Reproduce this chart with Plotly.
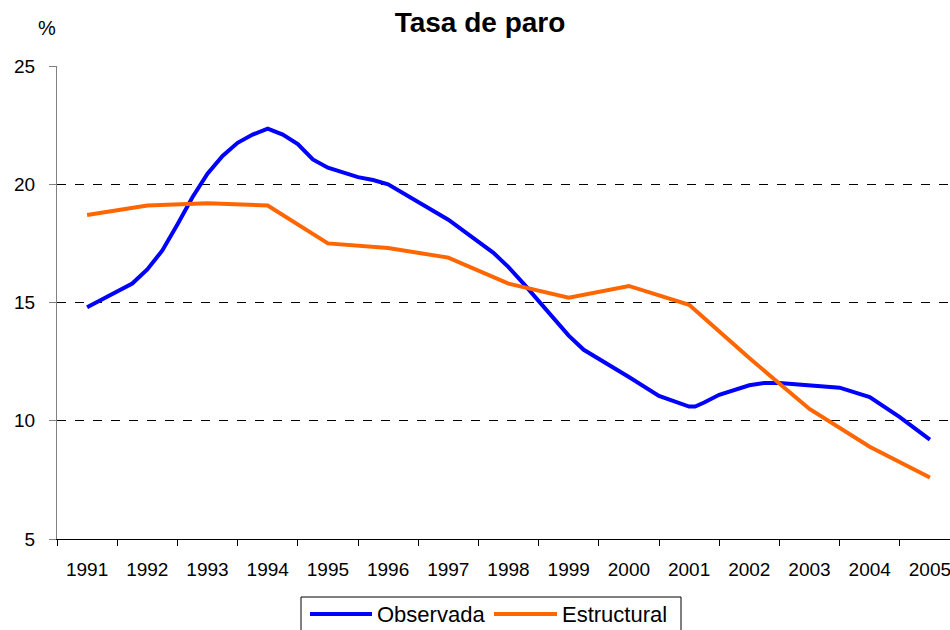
import plotly.graph_objects as go

# Annual categories
years = list(range(1991, 2006))
year_labels = [str(y) for y in years]

# Estructural (annual)
estructural = [18.7, 19.1, 19.2, 19.1, 17.5, 17.3, 16.9, 15.8, 15.2, 15.7, 14.9, 12.65, 10.5, 8.9, 7.6]

# Observada (sub-annual readings, x in decimal years, integer = middle of year slot)
obs_x = [1991.0, 1991.75, 1992.0, 1992.25, 1992.5, 1992.75, 1993.0, 1993.25, 1993.5, 1993.75,
         1994.0, 1994.25, 1994.5, 1994.75, 1995.0, 1995.5, 1995.75, 1996.0, 1997.0, 1997.75,
         1998.0, 1998.25, 1999.0, 1999.25, 2000.0, 2000.5, 2001.0, 2001.1, 2001.25, 2001.5,
         2002.0, 2002.25, 2002.5, 2003.5, 2004.0, 2004.5, 2005.0]
obs_y = [14.8, 15.8, 16.4, 17.2, 18.3, 19.45, 20.45, 21.2, 21.75, 22.1,
         22.35, 22.1, 21.7, 21.05, 20.7, 20.3, 20.18, 20.0, 18.5, 17.1,
         16.5, 15.8, 13.6, 13.0, 11.85, 11.05, 10.6, 10.6, 10.77, 11.1,
         11.5, 11.6, 11.6, 11.4, 11.0, 10.15, 9.2]

y_ticks = [5, 10, 15, 20, 25]

series_names = ["Observada", "Estructural"]
series_colors = ["#0000FF", "#FF6600"]

FONT = "Liberation Sans, Arial, sans-serif"

W, H = 950, 630
L, R, T, B = 57, W, 66, 539
YEAR_PX = 60.2
x_end = 1990.5 + (R - L) / YEAR_PX

def px(x):
    return (x - L) / (R - L)
def py(y):
    return (B - y) / (B - T)

fig = go.Figure()
fig.add_trace(go.Scatter(x=obs_x, y=obs_y, mode="lines", name=series_names[0],
                         line=dict(color=series_colors[0], width=4), showlegend=False))
fig.add_trace(go.Scatter(x=years, y=estructural, mode="lines", name=series_names[1],
                         line=dict(color=series_colors[1], width=4), showlegend=False))

# legend box drawn by hand (longer line samples, like the original)
shapes = [
    dict(type="rect", xref="paper", yref="paper", x0=px(301), x1=px(681), y0=py(597), y1=py(660),
         line=dict(color="black", width=1), fillcolor="white", layer="above"),
    dict(type="line", xref="paper", yref="paper", x0=px(310), x1=px(372), y0=py(614), y1=py(614),
         line=dict(color=series_colors[0], width=4), layer="above"),
    dict(type="line", xref="paper", yref="paper", x0=px(494), x1=px(557), y0=py(614), y1=py(614),
         line=dict(color=series_colors[1], width=4), layer="above"),
]
annotations = [
    dict(text="%", xref="paper", yref="paper", x=px(47), y=py(28),
         showarrow=False, xanchor="center", yanchor="middle",
         font=dict(family=FONT, size=20, color="black")),
    dict(text=series_names[0], xref="paper", yref="paper", x=px(375), y=py(614),
         showarrow=False, xanchor="left", yanchor="middle",
         font=dict(family=FONT, size=22, color="black")),
    dict(text=series_names[1], xref="paper", yref="paper", x=px(560), y=py(614),
         showarrow=False, xanchor="left", yanchor="middle",
         font=dict(family=FONT, size=22, color="black")),
]

fig.update_layout(
    width=W, height=H,
    margin=dict(l=L, r=W - R, t=T, b=H - B, autoexpand=False),
    paper_bgcolor="white", plot_bgcolor="white",
    font=dict(family=FONT, size=19, color="black"),
    title=dict(text="<b>Tasa de paro</b>", font=dict(family=FONT, size=28, color="black"),
               xref="container", x=480 / W, xanchor="center",
               yref="container", y=1 - 22 / H, yanchor="middle"),
    showlegend=False,
    shapes=shapes,
    annotations=annotations,
)

fig.update_xaxes(
    range=[1990.5, x_end], tickmode="array", tickvals=years, ticktext=year_labels,
    ticks="", showgrid=False, zeroline=False, automargin=False,
    showline=True, linecolor="black", linewidth=1,
    ticklabelstandoff=13, ticklabeloverflow="allow",
    minor=dict(tick0=1990.5, dtick=1, ticks="outside", ticklen=6, tickcolor="black",
               tickwidth=1, showgrid=False),
)
fig.update_yaxes(
    range=[5, 25], tickmode="array", tickvals=y_ticks,
    ticks="outside", ticklen=7, tickcolor="#808080", tickwidth=1,
    showline=True, linecolor="#808080", linewidth=1,
    showgrid=True, gridcolor="black", gridwidth=1, griddash="dash",
    zeroline=False, ticklabelstandoff=10, automargin=False,
)

fig.write_html("out.html",
               config={"displayModeBar": False, "staticPlot": True},
               post_script="document.body.style.margin='0';document.body.style.overflow='hidden';")
